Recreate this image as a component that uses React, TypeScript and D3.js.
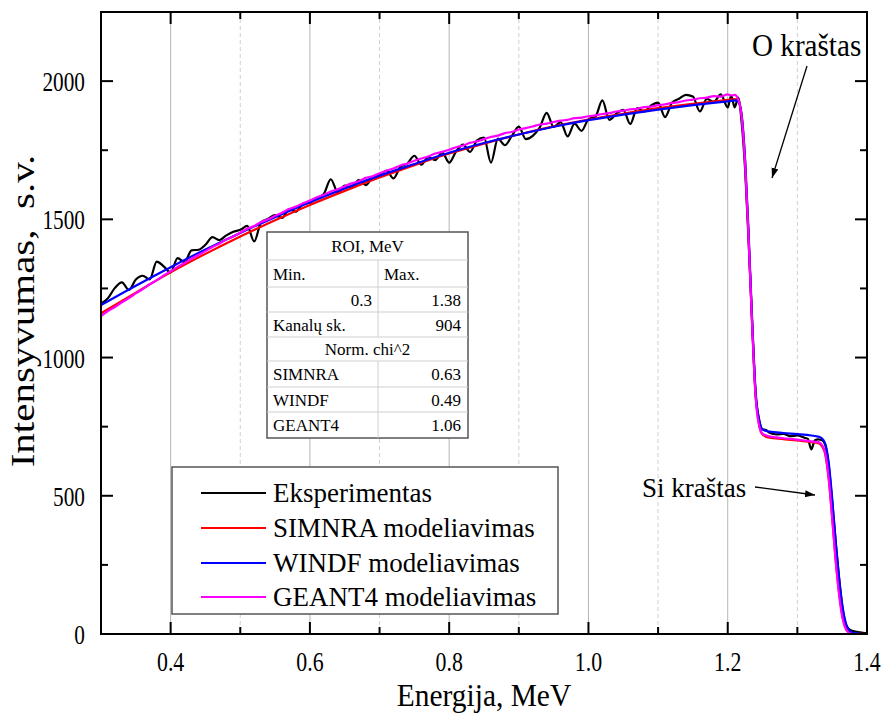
import React from "react";
import * as d3 from "d3";

const W = 883;
const H = 716;

const xTicksMajor = [0.4, 0.6, 0.8, 1.0, 1.2, 1.4];
const xTicksMinor = [0.5, 0.7, 0.9, 1.1, 1.3];
const yTicksMajor = [0, 500, 1000, 1500, 2000];
const yTicksMinor = [250, 750, 1250, 1750];

const legendLabels = ["Eksperimentas", "SIMNRA modeliavimas", "WINDF modeliavimas", "GEANT4 modeliavimas"];
const seriesColors = ["#000000", "#ff0000", "#0000ff", "#ff00ff"];

const tableRows: [string, string, string][] = [
  ["ROI, MeV", "", "span"],
  ["Min.", "Max.", "left"],
  ["0.3", "1.38", "right"],
  ["Kanalų sk.", "904", "split"],
  ["Norm. chi^2", "", "span"],
  ["SIMNRA", "0.63", "split"],
  ["WINDF", "0.49", "split"],
  ["GEANT4", "1.06", "split"],
];

const experiment: [number, number][] = [
  [0.30, 1195], [0.31, 1215], [0.32, 1252], [0.33, 1272], [0.34, 1245], [0.35, 1282],
  [0.36, 1296], [0.37, 1283], [0.38, 1347], [0.39, 1330], [0.40, 1308], [0.41, 1360],
  [0.42, 1345], [0.43, 1388], [0.44, 1390], [0.45, 1408], [0.46, 1436], [0.47, 1425],
  [0.48, 1442], [0.49, 1455], [0.50, 1462], [0.51, 1476], [0.52, 1420], [0.53, 1490],
  [0.54, 1502], [0.55, 1515], [0.56, 1505], [0.57, 1536], [0.58, 1528], [0.59, 1556],
  [0.60, 1560], [0.61, 1576], [0.62, 1592], [0.63, 1645], [0.64, 1598], [0.65, 1622],
  [0.66, 1614], [0.67, 1642], [0.68, 1624], [0.69, 1652], [0.70, 1660], [0.71, 1676],
  [0.72, 1648], [0.73, 1690], [0.74, 1702], [0.75, 1730], [0.76, 1698], [0.77, 1725],
  [0.78, 1714], [0.79, 1742], [0.80, 1705], [0.81, 1746], [0.82, 1770], [0.83, 1744],
  [0.84, 1786], [0.85, 1796], [0.86, 1705], [0.87, 1792], [0.88, 1768], [0.89, 1802],
  [0.90, 1835], [0.91, 1790], [0.92, 1802], [0.93, 1832], [0.94, 1885], [0.95, 1834],
  [0.96, 1852], [0.97, 1800], [0.98, 1846], [0.99, 1820], [1.00, 1862], [1.01, 1872],
  [1.02, 1930], [1.03, 1860], [1.04, 1882], [1.05, 1896], [1.06, 1845], [1.07, 1902],
  [1.08, 1890], [1.09, 1912], [1.10, 1922], [1.11, 1870], [1.12, 1922], [1.13, 1936],
  [1.14, 1950], [1.15, 1944], [1.16, 1890], [1.17, 1936], [1.18, 1925], [1.19, 1952],
  [1.20, 1905], [1.205, 1948], [1.21, 1905], [1.215, 1940], [1.22, 1850], [1.225, 1680],
  [1.23, 1420], [1.235, 1130], [1.24, 870], [1.245, 778], [1.25, 740], [1.255, 738],
  [1.26, 728], [1.27, 722], [1.28, 724], [1.29, 716], [1.30, 718], [1.31, 710],
  [1.315, 706], [1.32, 668], [1.325, 700], [1.33, 704], [1.335, 702], [1.34, 685],
  [1.345, 610], [1.35, 480], [1.355, 335], [1.36, 200], [1.365, 92], [1.37, 32],
  [1.375, 16], [1.38, 11], [1.39, 6], [1.40, 2],
];

const simnra: [number, number][] = [
  [0.30, 1160], [0.35, 1235], [0.40, 1308], [0.45, 1375], [0.50, 1438], [0.55, 1497],
  [0.60, 1552], [0.65, 1603], [0.70, 1651], [0.75, 1696], [0.80, 1738], [0.85, 1774],
  [0.90, 1807], [0.95, 1836], [1.00, 1861], [1.05, 1882], [1.10, 1902], [1.15, 1918],
  [1.20, 1932], [1.21, 1935], [1.215, 1930], [1.22, 1875], [1.225, 1705], [1.23, 1435],
  [1.235, 1125], [1.24, 865], [1.245, 758], [1.25, 722], [1.26, 710], [1.28, 705],
  [1.30, 700], [1.32, 694], [1.33, 690], [1.335, 680], [1.34, 650], [1.345, 560],
  [1.35, 420], [1.355, 268], [1.36, 148], [1.365, 62], [1.37, 20], [1.375, 5],
  [1.38, 1], [1.40, 0],
];

const windf: [number, number][] = [
  [0.30, 1190], [0.35, 1260], [0.40, 1327], [0.45, 1391], [0.50, 1451], [0.55, 1508],
  [0.60, 1562], [0.65, 1612], [0.70, 1658], [0.75, 1700], [0.80, 1741], [0.85, 1776],
  [0.90, 1807], [0.95, 1835], [1.00, 1859], [1.05, 1879], [1.10, 1897], [1.15, 1913],
  [1.20, 1927], [1.21, 1930], [1.215, 1926], [1.22, 1878], [1.225, 1715], [1.23, 1448],
  [1.235, 1140], [1.24, 880], [1.245, 772], [1.25, 740], [1.26, 732], [1.28, 727],
  [1.30, 723], [1.32, 718], [1.33, 714], [1.335, 708], [1.34, 688], [1.345, 620],
  [1.35, 490], [1.355, 335], [1.36, 200], [1.365, 96], [1.37, 36], [1.375, 12],
  [1.38, 4], [1.39, 1], [1.40, 0],
];

const geant4: [number, number][] = [
  [0.30, 1150], [0.31, 1168], [0.32, 1183], [0.33, 1200], [0.34, 1215], [0.35, 1232],
  [0.36, 1248], [0.37, 1265], [0.38, 1280], [0.39, 1297], [0.40, 1312], [0.41, 1328],
  [0.42, 1342], [0.43, 1358], [0.44, 1371], [0.45, 1385], [0.46, 1400], [0.47, 1412],
  [0.48, 1427], [0.49, 1438], [0.50, 1452], [0.51, 1466], [0.52, 1476], [0.53, 1490],
  [0.54, 1500], [0.55, 1513], [0.56, 1524], [0.57, 1537], [0.58, 1546], [0.59, 1558],
  [0.60, 1568], [0.61, 1580], [0.62, 1589], [0.63, 1601], [0.64, 1609], [0.65, 1620],
  [0.66, 1630], [0.67, 1638], [0.68, 1650], [0.69, 1656], [0.70, 1667], [0.71, 1676],
  [0.72, 1684], [0.73, 1695], [0.74, 1702], [0.75, 1712], [0.76, 1720], [0.77, 1727],
  [0.78, 1738], [0.79, 1744], [0.80, 1752], [0.81, 1761], [0.82, 1767], [0.83, 1777],
  [0.84, 1782], [0.85, 1790], [0.86, 1798], [0.87, 1803], [0.88, 1812], [0.89, 1816],
  [0.90, 1825], [0.91, 1830], [0.92, 1836], [0.93, 1843], [0.94, 1846], [0.95, 1852],
  [0.96, 1857], [0.97, 1860], [0.98, 1866], [0.99, 1868], [1.00, 1873], [1.01, 1876],
  [1.02, 1881], [1.03, 1884], [1.04, 1890], [1.05, 1893], [1.06, 1898], [1.07, 1900],
  [1.08, 1906], [1.09, 1908], [1.10, 1913], [1.11, 1916], [1.12, 1921], [1.13, 1924],
  [1.14, 1930], [1.15, 1933], [1.16, 1938], [1.17, 1940], [1.18, 1946], [1.19, 1944],
  [1.20, 1952], [1.205, 1948], [1.21, 1950], [1.215, 1935], [1.22, 1870], [1.225, 1700],
  [1.23, 1430], [1.235, 1120], [1.24, 860], [1.245, 755], [1.25, 724], [1.26, 715],
  [1.27, 711], [1.28, 708], [1.29, 706], [1.30, 703], [1.31, 700], [1.32, 697],
  [1.33, 694], [1.335, 685], [1.34, 655], [1.345, 565], [1.35, 420], [1.355, 265],
  [1.36, 140], [1.365, 55], [1.37, 15], [1.375, 3], [1.38, 0], [1.40, 0],
];

const FONT = "'Liberation Serif', 'Times New Roman', serif";

function SText(props: {
  x: number; y: number; size: number; sx?: number; anchor?: string; children: React.ReactNode;
}) {
  const { x, y, size, sx = 1, anchor = "start", children } = props;
  return (
    <text
      transform={`translate(${x},${y}) scale(${sx},1)`}
      fontSize={size}
      textAnchor={anchor}
      style={{ whiteSpace: "pre" }}
    >
      {children}
    </text>
  );
}

export default function App() {
  const left = 101, right = 867, top = 12, bottom = 634;
  const x = d3.scaleLinear().domain([0.3, 1.4]).range([left, right]);
  const y = d3.scaleLinear().domain([0, 2250]).range([bottom, top]);
  const line = d3
    .line<[number, number]>()
    .x((d) => x(d[0]))
    .y((d) => y(d[1]))
    .curve(d3.curveMonotoneX);

  const series = [experiment, simnra, windf, geant4];

  const tL = 267, tR = 468, tSplit = 378;
  const rowEdges = [232, 260, 287, 312, 337, 361, 387, 412, 438];

  const lgL = 172, lgT = 467, lgR = 558, lgB = 614;
  const lgRowY = [493, 528, 563, 597];

  return (
    <svg
      width={W}
      height={H}
      style={{ position: "absolute", left: 0, top: 0, background: "#fff" }}
      fontFamily={FONT}
    >
      <defs>
        <clipPath id="plotClip">
          <rect x={left} y={top} width={right - left} height={bottom - top} />
        </clipPath>
        <marker id="arrow" viewBox="0 0 10 10" refX="10" refY="5" markerWidth="10" markerHeight="10" orient="auto" markerUnits="userSpaceOnUse">
          <path d="M0,1.5 L10,5 L0,8.5 Z" fill="#000" />
        </marker>
      </defs>
      <rect x={0} y={0} width={W} height={H} fill="#fff" />

      {xTicksMajor.filter((t) => t < 1.4).map((t) => (
        <line key={"gM" + t} x1={x(t)} x2={x(t)} y1={top} y2={bottom} stroke="#b4b4b4" strokeWidth={1} />
      ))}
      {xTicksMinor.map((t) => (
        <line key={"gm" + t} x1={x(t)} x2={x(t)} y1={top} y2={bottom} stroke="#d0d0d0" strokeWidth={1} strokeDasharray="4,3" />
      ))}

      <g clipPath="url(#plotClip)">
        {series.map((s, i) => (
          <path key={i} d={line(s) || ""} fill="none" stroke={seriesColors[i]} strokeWidth={2.2} strokeLinejoin="round" />
        ))}
      </g>

      <rect x={left} y={top} width={right - left} height={bottom - top} fill="none" stroke="#000" strokeWidth={2} />

      {xTicksMajor.map((t) => (
        <g key={"xt" + t}>
          <line x1={x(t)} x2={x(t)} y1={bottom} y2={bottom - 12} stroke="#000" strokeWidth={2} />
          <line x1={x(t)} x2={x(t)} y1={top} y2={top + 12} stroke="#000" strokeWidth={2} />
          <SText x={x(t)} y={671} size={28} sx={0.78} anchor="middle">
            {t.toFixed(1)}
          </SText>
        </g>
      ))}
      {xTicksMinor.map((t) => (
        <g key={"xm" + t}>
          <line x1={x(t)} x2={x(t)} y1={bottom} y2={bottom - 7} stroke="#000" strokeWidth={2} />
          <line x1={x(t)} x2={x(t)} y1={top} y2={top + 7} stroke="#000" strokeWidth={2} />
        </g>
      ))}

      {yTicksMajor.map((t) => (
        <g key={"yt" + t}>
          <line x1={left} x2={left + 12} y1={y(t)} y2={y(t)} stroke="#000" strokeWidth={2} />
          <line x1={right} x2={right - 12} y1={y(t)} y2={y(t)} stroke="#000" strokeWidth={2} />
          <SText x={85} y={y(t) + 10} size={28} sx={0.76} anchor="end">
            {String(t)}
          </SText>
        </g>
      ))}
      {yTicksMinor.map((t) => (
        <g key={"ym" + t}>
          <line x1={left} x2={left + 7} y1={y(t)} y2={y(t)} stroke="#000" strokeWidth={2} />
          <line x1={right} x2={right - 7} y1={y(t)} y2={y(t)} stroke="#000" strokeWidth={2} />
        </g>
      ))}

      <SText x={(left + right) / 2} y={706} size={32} sx={0.92} anchor="middle">
        Energija, MeV
      </SText>
      <text
        transform={`translate(34, ${311}) scale(0.8,1) rotate(-90)`}
        textAnchor="middle"
        fontSize={41}
        style={{ whiteSpace: "pre" }}
      >
        {"Intensyvumas,  s.v."}
      </text>

      <g fontSize={17}>
        <rect x={tL} y={rowEdges[0]} width={tR - tL} height={rowEdges[8] - rowEdges[0]} fill="#fff" stroke="#555" strokeWidth={1.5} />
        {rowEdges.slice(1, 8).map((ry, i) => (
          <line key={"tr" + i} x1={tL} x2={tR} y1={ry} y2={ry} stroke="#cfcfcf" strokeWidth={1} />
        ))}
        {tableRows.map((r, i) => {
          const y0 = rowEdges[i], y1 = rowEdges[i + 1];
          const by = (y0 + y1) / 2 + 6;
          const hasSplit = r[2] !== "span";
          return (
            <g key={"row" + i}>
              {hasSplit && <line x1={tSplit} x2={tSplit} y1={y0} y2={y1} stroke="#cfcfcf" strokeWidth={1} />}
              {r[2] === "span" && (
                <text x={(tL + tR) / 2} y={by} textAnchor="middle">{r[0]}</text>
              )}
              {r[2] === "left" && (
                <>
                  <text x={tL + 6} y={by}>{r[0]}</text>
                  <text x={tSplit + 6} y={by}>{r[1]}</text>
                </>
              )}
              {r[2] === "right" && (
                <>
                  <text x={tSplit - 6} y={by} textAnchor="end">{r[0]}</text>
                  <text x={tR - 7} y={by} textAnchor="end">{r[1]}</text>
                </>
              )}
              {r[2] === "split" && (
                <>
                  <text x={tL + 6} y={by}>{r[0]}</text>
                  <text x={tR - 7} y={by} textAnchor="end">{r[1]}</text>
                </>
              )}
            </g>
          );
        })}
      </g>

      <rect x={lgL} y={lgT} width={lgR - lgL} height={lgB - lgT} fill="#fff" stroke="#555" strokeWidth={1.5} />
      {legendLabels.map((lab, i) => (
        <g key={"lg" + i}>
          <line x1={201} x2={266} y1={lgRowY[i]} y2={lgRowY[i]} stroke={seriesColors[i]} strokeWidth={2.2} />
          <SText x={273} y={lgRowY[i] + 9} size={27}>
            {lab}
          </SText>
        </g>
      ))}

      <SText x={752} y={56} size={31} sx={0.94}>O kraštas</SText>
      <line x1={807} y1={66} x2={772} y2={178} stroke="#000" strokeWidth={1.3} markerEnd="url(#arrow)" />
      <SText x={642} y={497} size={27}>Si kraštas</SText>
      <line x1={755} y1={487} x2={815} y2={495} stroke="#000" strokeWidth={1.3} markerEnd="url(#arrow)" />
    </svg>
  );
}
